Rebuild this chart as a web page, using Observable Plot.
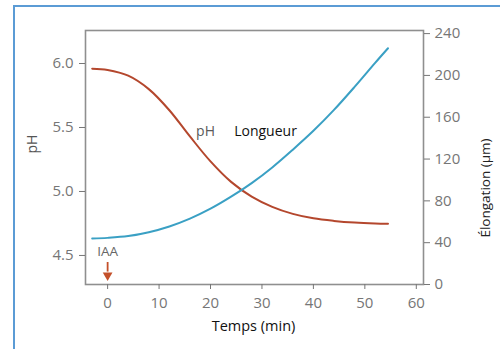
<!DOCTYPE html>
<html>
<head>
<meta charset="utf-8">
<script src="https://cdn.jsdelivr.net/npm/d3@7"></script>
<script src="https://cdn.jsdelivr.net/npm/@observablehq/plot@0.6"></script>
<style>
  html, body { margin: 0; padding: 0; background: #ffffff; }
  #wrap { position: relative; width: 500px; height: 349px; overflow: hidden; }
  #border { position: absolute; left: 13px; top: 5px; width: 600px; height: 400px;
            border-top: 2px solid #5b9bd5; border-left: 2px solid #5b9bd5; }
  #chart { position: absolute; left: 0; top: 0; }
</style>
</head>
<body>
<div id="wrap"><div id="border"></div><div id="chart"></div></div>
<script>
// ---- data ----
const times       = [-3, 0, 4, 8, 12, 16, 20, 24, 28, 32, 36, 40, 44, 48, 52, 54.5];
const phValues    = [5.96, 5.95, 5.905, 5.80, 5.635, 5.43, 5.235, 5.075, 4.96, 4.88, 4.825, 4.79, 4.77, 4.757, 4.75, 4.748];
const elongValues = [44, 44.6, 46.3, 50, 55.5, 63, 72.5, 84, 97, 112, 129, 147, 167, 189, 212, 226];
const xTicks      = [0, 10, 20, 30, 40, 50, 60];
const phTicks     = [4.5, 5.0, 5.5, 6.0];
const elongTicks  = [0, 40, 80, 120, 160, 200, 240];
const curveLabels = ["pH", "Longueur"];
const iaaLabel    = ["IAA"];

// secondary axis: elongation (µm) expressed in pH-axis units
const phMin = 4.273, phMax = 6.258;
const eToPh = e => phMin + e * 0.00817;

const phData = times.map((t, i) => ({t, v: phValues[i]}));
const elData = times.map((t, i) => ({t, v: eToPh(elongValues[i])}));

const tickColor = "#767676";
const frameColor = "#8f8f8f";
const arrowColor = "#c4502a";

const chart = Plot.plot({
  width: 500,
  height: 349,
  marginLeft: 85,
  marginRight: 77,
  marginTop: 30,
  marginBottom: 65,
  style: {fontFamily: "'Open Sans', sans-serif", fontSize: "15px", background: "transparent"},
  x: {domain: [-4.3, 61.4]},
  y: {domain: [phMin, phMax]},
  marks: [
    Plot.frame({stroke: frameColor, strokeWidth: 1.6}),
    Plot.axisX({ticks: xTicks, tickSize: 5, tickPadding: 8, color: tickColor, label: null, fontSize: 15}),
    Plot.axisY({ticks: phTicks, tickFormat: d3.format(".1f"), anchor: "left", tickSize: 6, tickPadding: 6,
                color: tickColor, label: null, fontSize: 15}),
    Plot.axisY({ticks: elongTicks.map(eToPh), tickFormat: (d, i) => String(elongTicks[i]), anchor: "right",
                tickSize: 6, tickPadding: 5, color: tickColor, label: null, fontSize: 15}),
    Plot.line(phData, {x: "t", y: "v", stroke: "#b4472d", strokeWidth: 2, curve: "catmull-rom"}),
    Plot.line(elData, {x: "t", y: "v", stroke: "#3aa0c4", strokeWidth: 2, curve: "catmull-rom"}),
    Plot.text(curveLabels, {x: [17.2, 24.6], y: [5.47, 5.47], text: d => d, textAnchor: "start",
                            fill: ["#5a5a5a", "#111111"], fontSize: 14}),
    Plot.text(iaaLabel, {x: [0], y: [4.53], text: d => d, fill: "#666666", fontSize: 13.5}),
    Plot.ruleX([0], {y1: 4.445, y2: 4.37, stroke: arrowColor, strokeWidth: 1.8}),
    Plot.dot([0], {x: d => d, y: [4.345], symbol: "triangle", rotate: 180, r: 3.6, fill: arrowColor, stroke: "none"}),
    Plot.text(["pH"], {y: [5.297], frameAnchor: "left", text: d => d, rotate: -90, dx: -53, fill: "#555555", fontSize: 14}),
    Plot.text(["Élongation (μm)"], {y: [5.414], frameAnchor: "right", text: d => d, rotate: -90, dx: 62,
                                   fill: "#222222", fontSize: 13.5}),
    Plot.text(["Temps (min)"], {frameAnchor: "bottom", text: d => d, dy: 46, dx: -1, fill: "#111111", fontSize: 14.5})
  ]
});
document.getElementById("chart").appendChild(chart);
</script>
</body>
</html>
